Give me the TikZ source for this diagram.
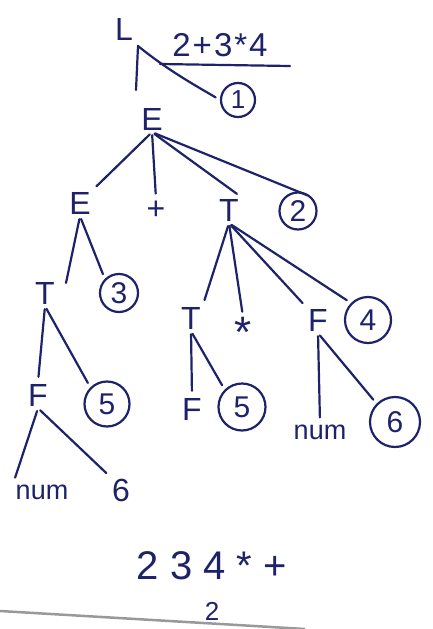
\documentclass[tikz,border=0pt]{standalone}
\usepackage{fontspec}
\setmainfont{Liberation Sans}
\definecolor{ink}{RGB}{30,35,105}
\begin{document}
\begin{tikzpicture}[x=1pt,y=-1pt,
  sym/.style={text=ink, font=\fontsize{32}{32}\selectfont, inner sep=2pt},
  word/.style={text=ink, font=\fontsize{27}{27}\selectfont, inner sep=2pt},
  lbl/.style={draw=ink, circle, line width=2.2pt, text=ink,
    font=\fontsize{30}{30}\selectfont, inner sep=0pt},
  edge/.style={draw=ink, line width=2.2pt, line cap=round,
    shorten <=3pt, shorten >=5pt}]
\useasboundingbox (0,0) rectangle (433,629);
\fill[white] (0,0) rectangle (433,629);

% input string
\node[sym] (L) at (124,29) {L};
\node[text=ink, font=\fontsize{33}{33}\selectfont, inner sep=1pt] (expr) at (220,45)
  {2\kern2pt+\kern2pt3\kern2pt*\kern2pt4};
\coordinate (ul1) at (160,64);
\coordinate (ul2) at (290,66);
\draw[edge, shorten <=0pt, shorten >=0pt] (ul1) -- (ul2);
\node[lbl, minimum size=34pt, font=\fontsize{26}{26}\selectfont] (c1) at (238,100) {1};

% tree nodes
\node[sym] (E0) at (152,119) {E};
\node[sym] (E1) at (80,203) {E};
\node[sym] (plus) at (156,210) {+};
\node[sym] (T1) at (229,210) {T};
\node[lbl, minimum size=37pt] (c2) at (298,211) {2};

\node[sym] (T2) at (45,293) {T};
\node[lbl, minimum size=38pt] (c3) at (119,293) {3};
\node[sym] (T3) at (191,318) {T};
\node[text=ink, font=\fontsize{44}{44}\selectfont, inner sep=0pt] (star) at (243,332) {*};
\node[sym] (F1) at (318,320) {F};
\node[lbl, minimum size=46pt] (c4) at (368,320) {4};

\node[sym] (F2) at (38,395) {F};
\node[lbl, minimum size=45pt] (c5a) at (107,404) {5};
\node[sym] (F3) at (192,409) {F};
\node[lbl, minimum size=47pt] (c5b) at (242,407) {5};
\node[word] (numA) at (320,432) {num};
\node[lbl, minimum size=50pt] (c6) at (395,422) {6};

\node[word] (numB) at (42,492) {num};
\node[sym] (six) at (121,490) {6};

% postfix result
\node[text=ink, font=\fontsize{40}{40}\selectfont] (post) at (212,566) {2 3 4 * +};
\node[text=ink, font=\fontsize{26}{26}\selectfont] (pg) at (212,611) {2};

% connectors
\coordinate (Lb) at (138,46);
\coordinate (Ld) at (136,90);
\draw[edge, shorten <=0pt, shorten >=0pt] (Lb) -- (Ld);
\draw[edge, shorten <=0pt] (Lb) .. controls (170,72) and (200,88) .. (c1.west);

\draw[edge] (E0.south) -- (E1.north east);
\draw[edge] (E0.south) -- (plus.north);
\draw[edge] (E0.south) -- (T1.north east);
\draw[edge] (E0.south) -- (c2.north east);

\draw[edge] (E1.south) -- ([xshift=20pt,yshift=-8pt]T2.north);
\draw[edge] (E1.south) -- (c3.north west);

\draw[edge] (T1.south) -- (T3.north east);
\draw[edge] (T1.south) -- (star.north);
\draw[edge] (T1.south) -- (F1.north west);
\draw[edge] (T1.south) -- (c4.north west);

\draw[edge] (T2.south) -- (F2.north);
\draw[edge] (T2.south) -- (c5a.north west);

\draw[edge] (T3.south) -- (F3.north);
\draw[edge] (T3.south) -- (c5b.north west);

\draw[edge] (F1.south) -- (numA.north);
\draw[edge] (F1.south) -- (c6.north west);

\draw[edge] (F2.south) -- (numB.north west);
\draw[edge] (F2.south) -- (six.north west);

% page edge
\coordinate (pe1) at (0,611);
\coordinate (pe2) at (305,629);
\draw[gray!80, line width=2.5pt] (pe1) -- (pe2);
\end{tikzpicture}
\end{document}
